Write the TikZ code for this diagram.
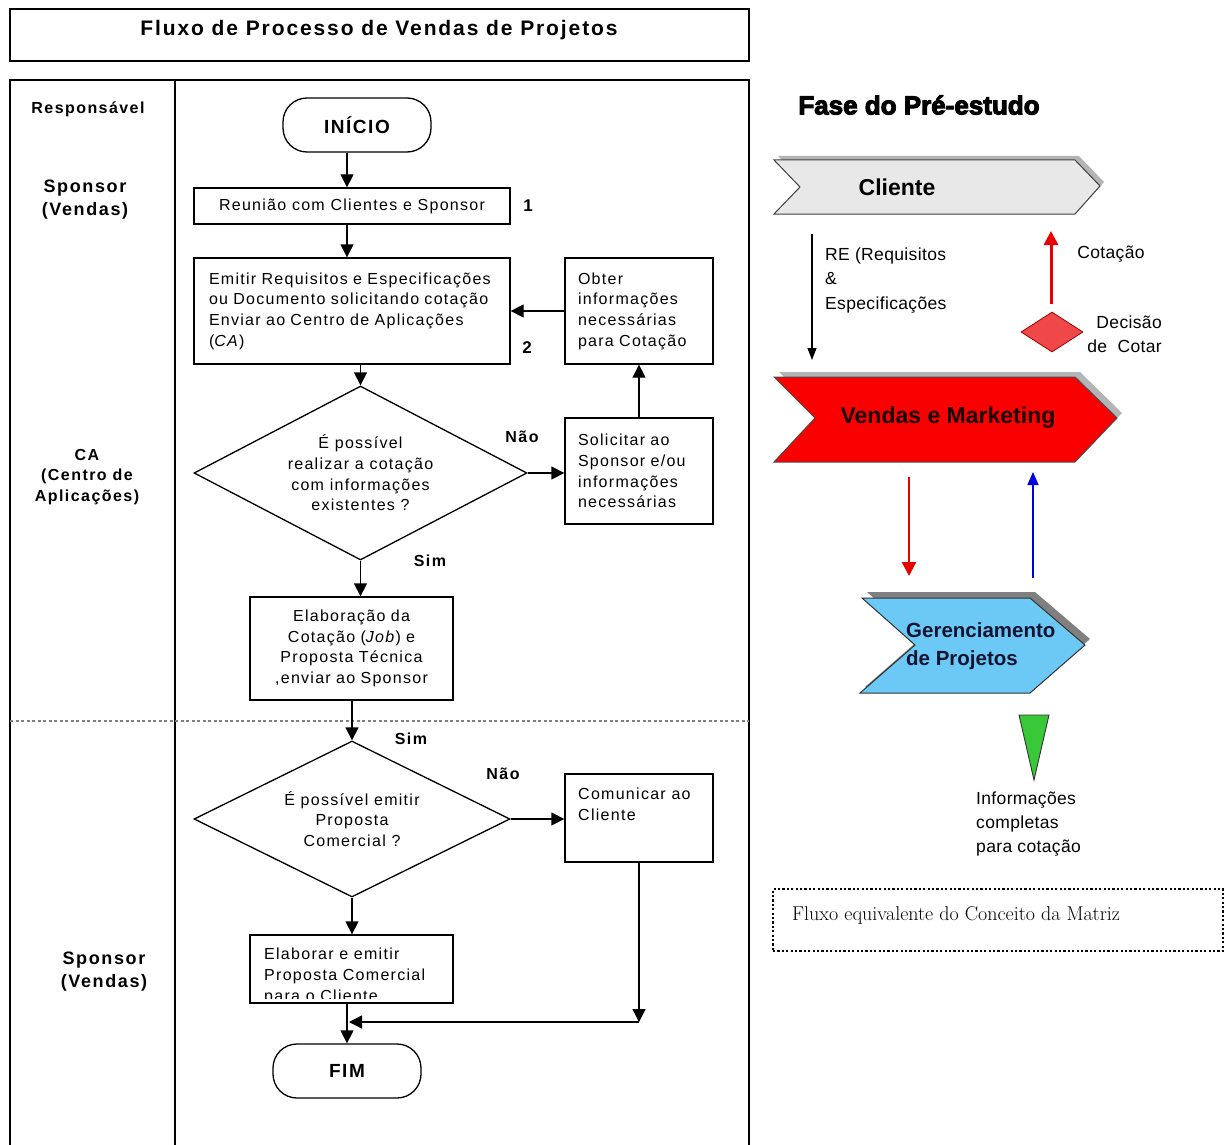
\documentclass[tikz,border=0pt]{standalone}
\usepackage{fontspec}
\setsansfont{Liberation Sans}
\newfontfamily\flowfont[LetterSpace=8]{Liberation Sans}
\newfontfamily\lanefont[LetterSpace=9]{Liberation Sans}
\newfontfamily\titlefont[LetterSpace=9]{Liberation Sans}
\newfontfamily\sidefont[LetterSpace=2]{Liberation Sans}
\newfontfamily\tightfont{Liberation Sans}
\newfontfamily\heavyfont[BoldFeatures={FakeBold=4}]{Liberation Sans}
\usetikzlibrary{shapes.geometric, arrows.meta}

\definecolor{cligray}{RGB}{232,232,232}
\definecolor{shadowlt}{RGB}{180,180,180}
\definecolor{shadowdk}{RGB}{128,128,128}
\definecolor{vmred}{RGB}{250,0,0}
\definecolor{decred}{RGB}{240,72,72}
\definecolor{gpblue}{RGB}{108,200,245}
\definecolor{trigreen}{RGB}{56,200,56}
\definecolor{arrred}{RGB}{230,0,0}
\definecolor{arrblue}{RGB}{0,0,220}
\definecolor{gptext}{RGB}{20,20,50}

\begin{document}
\begin{tikzpicture}[x=1pt,y=-1pt,
  procbox/.style={draw, line width=1.3pt, rectangle, inner sep=0pt},
  ftxt/.style={font=\flowfont\fontsize{16}{20.6}\selectfont},
  lanelab/.style={font=\lanefont\bfseries\fontsize{18}{23}\selectfont, inner sep=0pt, align=center},
  branch/.style={font=\lanefont\bfseries\fontsize{16}{20}\selectfont, inner sep=0pt},
  terminal/.style={draw, line width=1.3pt, rounded corners=24pt, minimum width=148pt, minimum height=54pt, inner sep=0pt, font=\flowfont\bfseries\fontsize{19}{22}\selectfont},
  decision/.style={draw, diamond, line width=1.3pt, inner sep=0pt, aspect=1.9, align=center, ftxt},
  arr/.style={line width=1.3pt, -{Triangle[width=13pt,length=13pt]}},
  sidetxt/.style={font=\sidefont\fontsize{17.5}{24.5}\selectfont, inner sep=0pt},
  chevtxt/.style={font=\tightfont\bfseries\fontsize{23}{27}\selectfont, inner sep=0pt},
]
\useasboundingbox (0,0) rectangle (1224,1145);
\fill[white] (0,0) rectangle (1224,1145);

% ---------- title and swimlane frame ----------
\node[procbox, line width=1.5pt, minimum width=739pt, minimum height=52pt] (titlebox) at (379.5,35) {};
\node[font=\titlefont\bfseries\fontsize{21}{24}\selectfont, inner sep=0pt] (title) at (379,30) {Fluxo de Processo de Vendas de Projetos};

\draw[line width=1.5pt] (10,1146) -- (10,80) -- (749,80) -- (749,1146);
\draw[line width=2.6pt] (175,80) -- (175,1146);
\draw[gray, line width=1.2pt, dash pattern=on 3pt off 2.5pt] (10,721) -- (749,721);

\node[lanelab, font=\lanefont\bfseries\fontsize{16}{20}\selectfont] (resp) at (88,109) {Responsável};
\node[lanelab] (spon1) at (85,199.5) {Sponsor\\(Vendas)};
\node[lanelab, font=\lanefont\bfseries\fontsize{16}{20.5}\selectfont] (ca) at (87,477) {CA\\(Centro de\\Aplicações)};
\node[lanelab] (spon2) at (104,971.5) {Sponsor\\(Vendas)};

% ---------- process flow ----------
\node[terminal] (start) at (357,125) {INÍCIO};
\node[procbox, ftxt, minimum width=316pt, minimum height=36pt] (r1) at (352,206) {Reunião com Clientes e Sponsor};
\node[branch, font=\lanefont\bfseries\fontsize{17}{20}\selectfont] (n1) at (528,206) {1};
\node[procbox, ftxt, text width=286pt, inner xsep=15pt, minimum height=106pt, align=left] (r2) at (352,311)
  {Emitir Requisitos e Especificações\\ou Documento solicitando cotação\\Enviar ao Centro de Aplicações\\(\textit{CA})};
\node[branch, font=\lanefont\bfseries\fontsize{17}{20}\selectfont] (n2) at (527,348) {2};
\node[procbox, ftxt, text width=122pt, inner xsep=13pt, minimum height=106pt, align=left] (obter) at (639,311)
  {Obter\\informações\\necessárias\\para Cotação};
\node[decision, minimum width=333pt, minimum height=174pt] (d1) at (360.5,473)
  {É possível\\realizar a cotação\\com informações\\existentes ?};
\node[procbox, ftxt, text width=122pt, inner xsep=13pt, minimum height=106pt, align=left] (solic) at (639,471)
  {Solicitar ao\\Sponsor e/ou\\informações\\necessárias};
\node[branch] (nao1) at (522,437) {Não};
\node[branch] (sim1) at (430,561) {Sim};
\node[procbox, ftxt, text width=183pt, inner xsep=10pt, minimum height=103pt, align=center] (elabc) at (351.5,648.5)
  {Elaboração da\\Cotação (\textit{Job}) e\\Proposta Técnica\\,enviar ao Sponsor};
\node[branch] (sim2) at (411,739) {Sim};
\node[decision, minimum width=316pt, minimum height=156pt] (d2) at (352,819)
  {É possível emitir\\Proposta\\Comercial ?};
\node[branch] (nao2) at (503,774) {Não};
\node[procbox, minimum width=148pt, minimum height=88pt] (comun) at (639,818) {};
\node[ftxt, inner sep=0pt, anchor=north west, align=left] (comuntxt) at (578,788) {Comunicar ao\\Cliente};
\node[procbox, minimum width=203pt, minimum height=68pt] (elabp) at (351.5,969) {};
\begin{scope}
  \clip (250,930) rectangle (453,998.5);
  \node[ftxt, inner sep=0pt, anchor=north west, align=left] (elabptxt) at (264,948)
    {Elaborar e emitir\\Proposta Comercial\\para o Cliente};
\end{scope}
\node[terminal] (fim) at (347,1071) {FIM};

\coordinate (jR) at (639,1022);
\coordinate (jL) at (349,1022);

\draw[arr] ([xshift=-10pt]start.south) -- ([xshift=-5pt]r1.north);
\draw[arr] ([xshift=-5pt]r1.south) -- ([xshift=-5pt]r2.north);
\draw[arr] (d1.north |- r2.south) -- (d1.north);
\draw[arr] (obter.west) -- (r2.east);
\draw[arr] (solic.north) -- (obter.south);
\draw[arr] (d1.east) -- (d1.east -| solic.west);
\draw[arr] (d1.south) -- (d1.south |- elabc.north);
\draw[arr] (d2.north |- elabc.south) -- (d2.north);
\draw[arr] (d2.east) -- (d2.east -| comun.west);
\draw[arr] (d2.south) -- (d2.south |- elabp.north);
\draw[arr] (fim.north |- elabp.south) -- (fim.north);
\draw[arr] (comun.south) -- (jR);
\draw[arr] (jR) -- (jL);

% ---------- pre-study phase ----------
\node[font=\heavyfont\bfseries\fontsize{26}{30}\selectfont, inner sep=0pt] (fase) at (919,105) {Fase do Pré-estudo};

% Cliente
\fill[shadowlt] (778,156) -- (1079,156) -- (1104,182) -- (1079,210) -- (778,210) -- (804,183) -- cycle;
\filldraw[fill=cligray, draw=black!75, line width=1pt] (774,160) -- (1075,160) -- (1100,186) -- (1075,214) -- (774,214) -- (800,187) -- cycle;
\node[chevtxt] (cli) at (897,187) {Cliente};

% Vendas e Marketing
\fill[shadowlt] (779,372) -- (1080,372) -- (1122,413) -- (1080,457) -- (779,457) -- (820,413) -- cycle;
\filldraw[fill=vmred, draw=black!70, line width=1pt] (774,377) -- (1075,377) -- (1117,418) -- (1075,462) -- (774,462) -- (815,418) -- cycle;
\node[chevtxt, text=black!90!red] (vm) at (948,418) {Vendas e Marketing};

% Gerenciamento de Projetos
\fill[shadowdk] (867,592) -- (1035,592) -- (1090,639) -- (1035,687) -- (865,687) -- (920,639) -- cycle;
\filldraw[fill=gpblue, draw=black!80, line width=1pt] (862,598) -- (1030,598) -- (1085,645) -- (1030,693) -- (860,693) -- (915,645) -- cycle;
\node[chevtxt, text=gptext, font=\tightfont\bfseries\fontsize{20.5}{28}\selectfont, anchor=west, align=left] (gp) at (906,646) {Gerenciamento\\de Projetos};

% requirements and quotation
\coordinate (reA) at (812,234);
\coordinate (reB) at (812,360);
\draw[line width=1.1pt, -{Triangle[width=9pt,length=12pt]}] (reA) -- (reB);
\node[sidetxt, anchor=west, align=left] (retxt) at (825,280.5) {RE (Requisitos\\\&\\Especificações};

\node[diamond, fill=decred, draw=red!60!black, line width=0.8pt, minimum width=62pt, minimum height=40pt, inner sep=0pt] (dec) at (1052,332) {};
\coordinate (cotA) at (1051,304);
\coordinate (cotB) at (1051,231);
\draw[arrred, line width=3pt, -{Triangle[width=14pt,length=14pt]}] (cotA) -- (cotB);
\node[sidetxt] (cottxt) at (1111,254) {Cotação};
\node[sidetxt, anchor=east, align=right, font=\sidefont\fontsize{17.5}{24}\selectfont] (dectxt) at (1162,334) {Decisão\\de\ \ Cotar};

% exchange between sales and project management
\coordinate (vgA) at (909,477);
\coordinate (vgB) at (909,576);
\draw[arrred, line width=2.2pt, -{Triangle[width=14pt,length=14pt]}] (vgA) -- (vgB);
\coordinate (gvA) at (1033,578);
\coordinate (gvB) at (1033,472);
\draw[arrblue, line width=1.5pt, -{Triangle[width=11pt,length=13pt]}] (gvA) -- (gvB);

% complete information marker
\filldraw[fill=trigreen, draw=black!80, line width=0.9pt] (1019,715) -- (1049,715) -- (1034,780) -- cycle;
\node[sidetxt, anchor=west, align=left, font=\sidefont\fontsize{17.5}{24}\selectfont] (infotxt) at (976,824) {Informações\\completas\\para cotação};

% matrix concept note
\node[draw, line width=2.2pt, dash pattern=on 2.2pt off 2.2pt, minimum width=450pt, minimum height=62pt, inner sep=0pt] (matriz) at (998,920) {};
\node[font=\rmfamily\fontsize{20}{24}\selectfont, inner sep=0pt, anchor=west] (matriztxt) at (792,915) {Fluxo equivalente do Conceito da Matriz};
\end{tikzpicture}
\end{document}
